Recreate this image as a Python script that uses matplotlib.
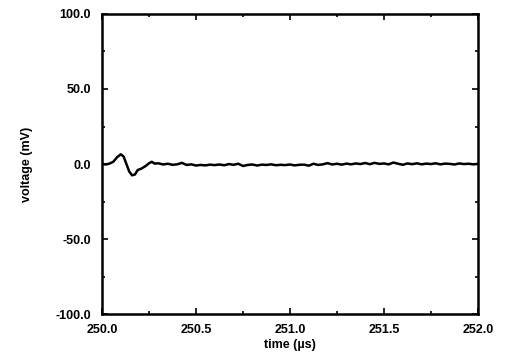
import matplotlib.pyplot as plt
from matplotlib.ticker import MultipleLocator, FormatStrFormatter

# trace (time in us, voltage in mV)
t_pulse = [250.000, 250.020, 250.040, 250.060, 250.080, 250.100, 250.115, 250.130,
           250.145, 250.160, 250.175, 250.190, 250.210, 250.230, 250.250, 250.265, 250.280]
v_pulse = [0.0, -0.3, 0.3, 1.5, 4.5, 6.5, 5.0, 0.0,
           -5.0, -7.5, -7.0, -4.0, -3.0, -1.5, 0.5, 1.5, 0.3]

t_tail = [250.300, 250.325, 250.350, 250.375, 250.400, 250.425, 250.450, 250.475, 250.500, 250.525,
          250.550, 250.575, 250.600, 250.625, 250.650, 250.675, 250.700, 250.725, 250.750, 250.775,
          250.800, 250.825, 250.850, 250.875, 250.900, 250.925, 250.950, 250.975, 251.000, 251.025,
          251.050, 251.075, 251.100, 251.125, 251.150, 251.175, 251.200, 251.225, 251.250, 251.275,
          251.300, 251.325, 251.350, 251.375, 251.400, 251.425, 251.450, 251.475, 251.500, 251.525,
          251.550, 251.575, 251.600, 251.625, 251.650, 251.675, 251.700, 251.725, 251.750, 251.775,
          251.800, 251.825, 251.850, 251.875, 251.900, 251.925, 251.950, 251.975, 252.000]
v_tail = [0.5, -0.3, 0.2, -0.5, -0.2, 0.8, -0.6, -0.2, -1.0, -0.6,
          -0.9, -0.4, -0.7, -0.3, -0.8, 0.0, -0.5, 0.2, -1.3, -0.6,
          -0.3, -1.0, -0.4, -0.6, -0.2, -0.8, -0.5, -0.7, -0.3, -0.9,
          -0.5, -0.4, -1.1, 0.2, -0.6, -0.2, 0.6, -0.3, 0.2, -0.4,
          0.3, -0.2, 0.4, 0.0, 0.7, -0.1, 0.8, 0.1, 0.4, -0.2,
          1.0, 0.2, -0.5, 0.4, -0.1, 0.5, -0.2, 0.3, 0.0, 0.5,
          -0.2, 0.3, 0.1, -0.3, 0.4, 0.0, 0.2, -0.2, 0.1]

time = t_pulse + t_tail
voltage = v_pulse + v_tail

plt.rcParams['font.family'] = ['Liberation Sans', 'DejaVu Sans']
plt.rcParams['font.weight'] = 'bold'

fig = plt.figure(figsize=(5.19, 3.57), dpi=100)
ax = fig.add_axes([0.1965, 0.120, 0.7245, 0.841])

ax.plot(time, voltage, color='black', linewidth=1.8)

ax.set_xlim(250.0, 252.0)
ax.set_ylim(-100.0, 100.0)
ax.xaxis.set_major_locator(MultipleLocator(0.5))
ax.xaxis.set_minor_locator(MultipleLocator(0.25))
ax.yaxis.set_major_locator(MultipleLocator(50))
ax.yaxis.set_minor_locator(MultipleLocator(25))
ax.xaxis.set_major_formatter(FormatStrFormatter('%.1f'))
ax.yaxis.set_major_formatter(FormatStrFormatter('%.1f'))

ax.tick_params(which='both', direction='in', top=True, right=True, width=1.2,
               labelsize=9)
ax.tick_params(axis='y', pad=8)
ax.tick_params(axis='x', pad=7)
ax.tick_params(which='major', length=4)
ax.tick_params(which='minor', length=2.5)
for s in ax.spines.values():
    s.set_linewidth(1.8)

ax.set_xlabel('time (\u00b5s)', fontsize=9, fontweight='bold', labelpad=2)
ax.set_ylabel('voltage (mV)', fontsize=9, fontweight='bold', labelpad=16)

fig.savefig('out.png', dpi=100)
